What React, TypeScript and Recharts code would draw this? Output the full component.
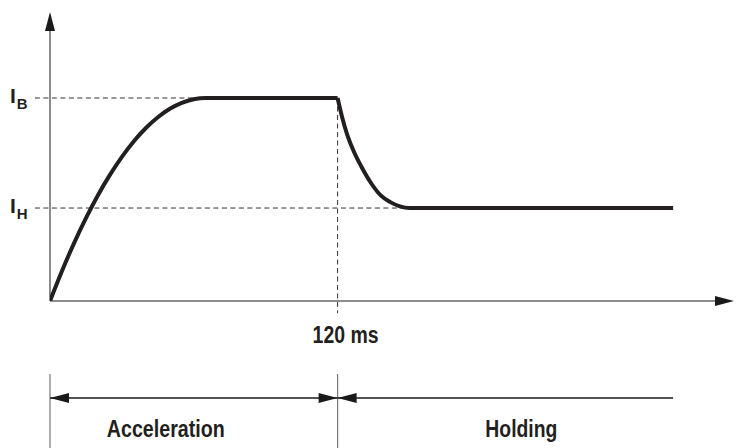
import { LineChart, Line, XAxis, YAxis, ReferenceLine, ReferenceDot } from 'recharts';

// time in ms, current as a fraction of I_B
const riseTime = [0, 5, 10, 15, 20, 25, 30, 35, 40, 45, 50, 55, 60, 65, 120];
const riseCurrent = [0, 0.148, 0.284, 0.408, 0.521, 0.621, 0.71, 0.787, 0.852, 0.905, 0.947, 0.976, 0.994, 1, 1];
const decayTime = [120, 122, 124, 127, 130, 134, 138, 142, 146, 150, 260];
const decayCurrent = [1, 0.9, 0.82, 0.73, 0.66, 0.58, 0.52, 0.487, 0.466, 0.458, 0.458];

const I_B = 1;
const I_H = 0.458;
const SWITCH_MS = 120;
const END_MS = 260;
const X_MAX = 285.4;
const Y_MAX = 1.4236;

const riseData = riseTime.map((t, i) => ({ t, i: riseCurrent[i] }));
const decayData = decayTime.map((t, i) => ({ t, i: decayCurrent[i] }));

const FONT = "'Liberation Sans', Arial, sans-serif";
const DIM_Y = -0.478;

type Dir = 'up' | 'left' | 'right';
const arrowHeads: Array<{ x: number; y: number; dir: Dir }> = [
  { x: 0, y: Y_MAX, dir: 'up' },
  { x: X_MAX, y: 0, dir: 'right' },
  { x: 0, y: DIM_Y, dir: 'left' },
  { x: SWITCH_MS, y: DIM_Y, dir: 'right' },
  { x: SWITCH_MS, y: DIM_Y, dir: 'left' },
];

const arrowShape = (dir: Dir) => (p: any) => {
  const { cx, cy } = p;
  const L = 19;
  const W = 5;
  let pts = '';
  if (dir === 'up') pts = `${cx},${cy} ${cx - W},${cy + L} ${cx + W},${cy + L}`;
  if (dir === 'right') pts = `${cx},${cy} ${cx - L},${cy - W} ${cx - L},${cy + W}`;
  if (dir === 'left') pts = `${cx},${cy} ${cx + L},${cy - W} ${cx + L},${cy + W}`;
  return <polygon points={pts} fill="#1a1a1a" />;
};

// condensed bold look: squeeze Liberation Sans Bold to the measured width
const textShape = (text: string, dx: number, dy: number, width: number) => (p: any) => (
  <text
    x={p.cx + dx}
    y={p.cy + dy}
    textAnchor="middle"
    fontFamily={FONT}
    fontWeight="bold"
    fontSize={23}
    textLength={width}
    lengthAdjust="spacingAndGlyphs"
    fill="#231f20"
  >
    {text}
  </text>
);

const currentLabel = (sub: string) => (p: any) => (
  <text x={p.cx - 40} y={p.cy + 5} fontFamily={FONT} fontWeight="bold" fill="#231f20">
    <tspan fontSize={21}>I</tspan>
    <tspan fontSize={15} dy={6} dx={1}>{sub}</tspan>
  </text>
);

export default function App() {
  return (
    <div style={{ position: 'absolute', left: 0, top: 0, width: 742, height: 448, background: '#fff' }}>
      <LineChart width={742} height={448} margin={{ top: 12, right: 8, left: 50, bottom: 147 }}>
        <XAxis type="number" dataKey="t" domain={[0, X_MAX]} hide allowDataOverflow />
        <YAxis type="number" dataKey="i" domain={[0, Y_MAX]} hide allowDataOverflow />

        {/* axes */}
        <ReferenceLine segment={[{ x: 0, y: 0 }, { x: 0, y: Y_MAX - 0.05 }]} stroke="#666" strokeWidth={1.5} ifOverflow="visible" />
        <ReferenceLine segment={[{ x: 0, y: 0 }, { x: X_MAX - 4, y: 0 }]} stroke="#666" strokeWidth={1.5} ifOverflow="visible" />

        {/* guides */}
        <ReferenceLine segment={[{ x: -6.3, y: I_B }, { x: SWITCH_MS, y: I_B }]} stroke="#333" strokeDasharray="5 3.5" ifOverflow="visible" />
        <ReferenceLine segment={[{ x: -6.3, y: I_H }, { x: 150, y: I_H }]} stroke="#333" strokeDasharray="5 3.5" ifOverflow="visible" />
        <ReferenceLine segment={[{ x: SWITCH_MS, y: I_B }, { x: SWITCH_MS, y: -0.06 }]} stroke="#333" strokeDasharray="5 3.5" ifOverflow="visible" />

        {/* dimension lines */}
        <ReferenceLine segment={[{ x: 0, y: -0.36 }, { x: 0, y: -0.74 }]} stroke="#777" strokeWidth={1.2} ifOverflow="visible" />
        <ReferenceLine segment={[{ x: SWITCH_MS, y: -0.36 }, { x: SWITCH_MS, y: -0.74 }]} stroke="#777" strokeWidth={1.2} ifOverflow="visible" />
        <ReferenceLine segment={[{ x: 0, y: DIM_Y }, { x: SWITCH_MS, y: DIM_Y }]} stroke="#1a1a1a" strokeWidth={1.4} ifOverflow="visible" />
        <ReferenceLine segment={[{ x: SWITCH_MS, y: DIM_Y }, { x: END_MS, y: DIM_Y }]} stroke="#1a1a1a" strokeWidth={1.4} ifOverflow="visible" />

        {arrowHeads.map((a, k) => (
          <ReferenceDot key={k} x={a.x} y={a.y} r={1} ifOverflow="visible" shape={arrowShape(a.dir)} />
        ))}

        {/* current */}
        <Line data={riseData} dataKey="i" type="monotone" stroke="#231f20" strokeWidth={4} dot={false} isAnimationActive={false} />
        <Line data={decayData} dataKey="i" type="monotone" stroke="#231f20" strokeWidth={4} dot={false} isAnimationActive={false} />

        {/* labels */}
        <ReferenceDot x={0} y={I_B} r={1} ifOverflow="visible" shape={currentLabel('B')} />
        <ReferenceDot x={0} y={I_H} r={1} ifOverflow="visible" shape={currentLabel('H')} />
        <ReferenceDot x={SWITCH_MS} y={0} r={1} ifOverflow="visible" shape={textShape('120 ms', 8, 42, 66)} />
        <ReferenceDot x={SWITCH_MS / 2} y={DIM_Y} r={1} ifOverflow="visible" shape={textShape('Acceleration', -28, 39, 118)} />
        <ReferenceDot x={(SWITCH_MS + END_MS) / 2} y={DIM_Y} r={1} ifOverflow="visible" shape={textShape('Holding', 16, 39, 72)} />
      </LineChart>
    </div>
  );
}
